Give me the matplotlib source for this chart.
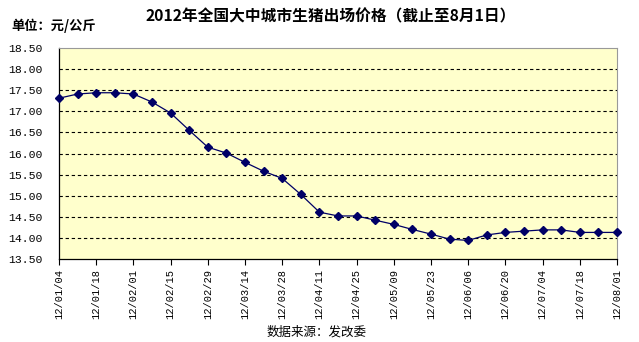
import numpy as np
import matplotlib.pyplot as plt

plt.rcParams['font.family'] = ['Noto Sans CJK SC', 'DejaVu Sans']

# weekly pig prices, 2012 (yuan/kg)
dates = ['12/01/04', '12/01/11', '12/01/18', '12/01/25', '12/02/01', '12/02/08',
         '12/02/15', '12/02/22', '12/02/29', '12/03/07', '12/03/14', '12/03/21',
         '12/03/28', '12/04/04', '12/04/11', '12/04/18', '12/04/25', '12/05/02',
         '12/05/09', '12/05/16', '12/05/23', '12/05/30', '12/06/06', '12/06/13',
         '12/06/20', '12/06/27', '12/07/04', '12/07/11', '12/07/18', '12/07/25',
         '12/08/01']
prices = [17.31, 17.41, 17.44, 17.44, 17.41, 17.22, 16.96, 16.55, 16.15, 16.01,
          15.79, 15.58, 15.41, 15.03, 14.61, 14.52, 14.52, 14.42, 14.32, 14.20,
          14.09, 13.97, 13.94, 14.07, 14.13, 14.16, 14.19, 14.19, 14.13, 14.13,
          14.13]
yticks = [13.5, 14.0, 14.5, 15.0, 15.5, 16.0, 16.5, 17.0, 17.5, 18.0, 18.5]

fig = plt.figure(figsize=(6.39, 3.42), dpi=100)
ax = fig.add_axes([0.0923, 0.2427, 0.8733, 0.6169])
ax.set_facecolor('#FFFFCC')

x = np.arange(len(prices))
ax.plot(x, prices, color='#000066', lw=0.9, marker='D', ms=4.2,
        mfc='#000066', mec='#000066', zorder=3, clip_on=False)

ax.set_xlim(0, len(prices) - 1)
ax.set_ylim(13.5, 18.5)
ax.set_yticks(yticks)
ax.set_yticklabels(['%.2f' % v for v in yticks], family='Liberation Mono', fontsize=8.2)
ax.set_xticks(x[::2])
ax.set_xticklabels(dates[::2], rotation=90, family='Liberation Mono', fontsize=7.5)
ax.tick_params(axis='y', length=0, pad=12)
ax.tick_params(axis='x', length=4, direction='out', pad=3)

for v in yticks[1:-1]:
    ax.axhline(v, color='black', lw=0.8, ls=(0, (3, 2.5)), zorder=1)

for s in ['top', 'right']:
    ax.spines[s].set_color('#999999')
    ax.spines[s].set_linewidth(0.8)
for s in ['left', 'bottom']:
    ax.spines[s].set_color('black')
    ax.spines[s].set_linewidth(0.9)

fig.text(0.518, 0.952, '2012年全国大中城市生猪出场价格（截止至8月1日）',
         ha='center', va='center', fontsize=11.3, fontweight='bold')
fig.text(0.018, 0.925, '单位：元/公斤', ha='left', va='center',
         fontsize=9.5, fontweight='bold')
fig.text(0.495, 0.03, '数据来源：发改委', ha='center', va='center', fontsize=9)

fig.savefig('out.png', dpi=100)
